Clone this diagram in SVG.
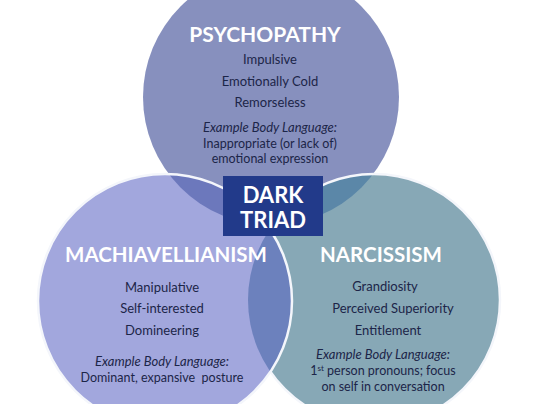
<svg xmlns="http://www.w3.org/2000/svg" width="547" height="404" viewBox="0 0 547 404">
<style>
.title{font-family:Lato,"Open Sans","Liberation Sans",sans-serif;font-weight:bold;fill:#ffffff;text-anchor:middle}
.item{font-family:Lato,"Open Sans","Liberation Sans",sans-serif;font-size:13px;fill:#1c2548;text-anchor:middle}
.ex{font-family:Lato,"Open Sans","Liberation Sans",sans-serif;font-size:12.5px;fill:#1c2548;text-anchor:middle}
.it{font-style:italic;font-size:13px}
</style>
<defs>
<clipPath id="cTop"><circle cx="271" cy="97" r="128"/></clipPath>
<clipPath id="cLeft"><circle cx="165" cy="301" r="127"/></clipPath>
<clipPath id="cRight"><circle cx="374" cy="300" r="126"/></clipPath>
<mask id="mNoLeft"><rect width="547" height="404" fill="#fff"/><circle cx="165" cy="301" r="127" fill="#000"/></mask>
</defs>
<rect width="547" height="404" fill="#ffffff"/>
<g id="psychopathy">
<circle cx="271" cy="97" r="128" fill="#8790be"/>
</g>
<g id="narcissism">
<circle cx="374" cy="300" r="126" fill="#87a8b6"/>
</g>
<g id="machiavellianism">
<circle cx="165" cy="301" r="127" fill="#a2a7dd"/>
</g>
<g id="overlaps">
<circle cx="165" cy="301" r="127" fill="#6c78bc" clip-path="url(#cTop)"/>
<circle cx="374" cy="300" r="126" fill="#5b87a8" clip-path="url(#cTop)"/>
<g clip-path="url(#cLeft)"><circle cx="374" cy="300" r="126" fill="#6c81bd"/></g>
</g>
<g id="outlines" fill="none" stroke="#f4f6fb" stroke-width="2.5">
<circle cx="374" cy="300" r="126" mask="url(#mNoLeft)"/>
<circle cx="165" cy="301" r="127"/>
</g>
<g id="psychopathy-text">
<text class="title" x="265" y="42" font-size="21">PSYCHOPATHY</text>
<text class="item" x="270" y="64">Impulsive</text>
<text class="item" x="270" y="86">Emotionally Cold</text>
<text class="item" x="270" y="107">Remorseless</text>
<text class="ex it" x="270" y="132">Example Body Language:</text>
<text class="ex" x="270" y="148">Inappropriate (or lack of)</text>
<text class="ex" x="270" y="163">emotional expression</text>
</g>
<g id="machiavellianism-text">
<text class="title" x="166" y="262" font-size="20.5">MACHIAVELLIANISM</text>
<text class="item" x="162" y="292">Manipulative</text>
<text class="item" x="162" y="313">Self-interested</text>
<text class="item" x="162" y="335">Domineering</text>
<text class="ex it" x="162" y="366">Example Body Language:</text>
<text class="ex" x="162" y="382" xml:space="preserve">Dominant, expansive  posture</text>
</g>
<g id="narcissism-text">
<text class="title" x="381" y="262" font-size="20.5">NARCISSISM</text>
<text class="item" x="385" y="291">Grandiosity</text>
<text class="item" x="393" y="313">Perceived Superiority</text>
<text class="item" x="388" y="335">Entitlement</text>
<text class="ex it" x="383" y="359">Example Body Language:</text>
<text class="ex" x="383" y="375">1<tspan font-size="8" dy="-4">st</tspan><tspan dy="4"> person pronouns; focus</tspan></text>
<text class="ex" x="383" y="391">on self in conversation</text>
</g>
<g id="dark-triad">
<rect x="223" y="176" width="100" height="60" fill="#223a8a"/>
<text class="title" x="273" y="203" font-size="22">DARK</text>
<text class="title" x="273" y="228" font-size="22">TRIAD</text>
</g>
</svg>
